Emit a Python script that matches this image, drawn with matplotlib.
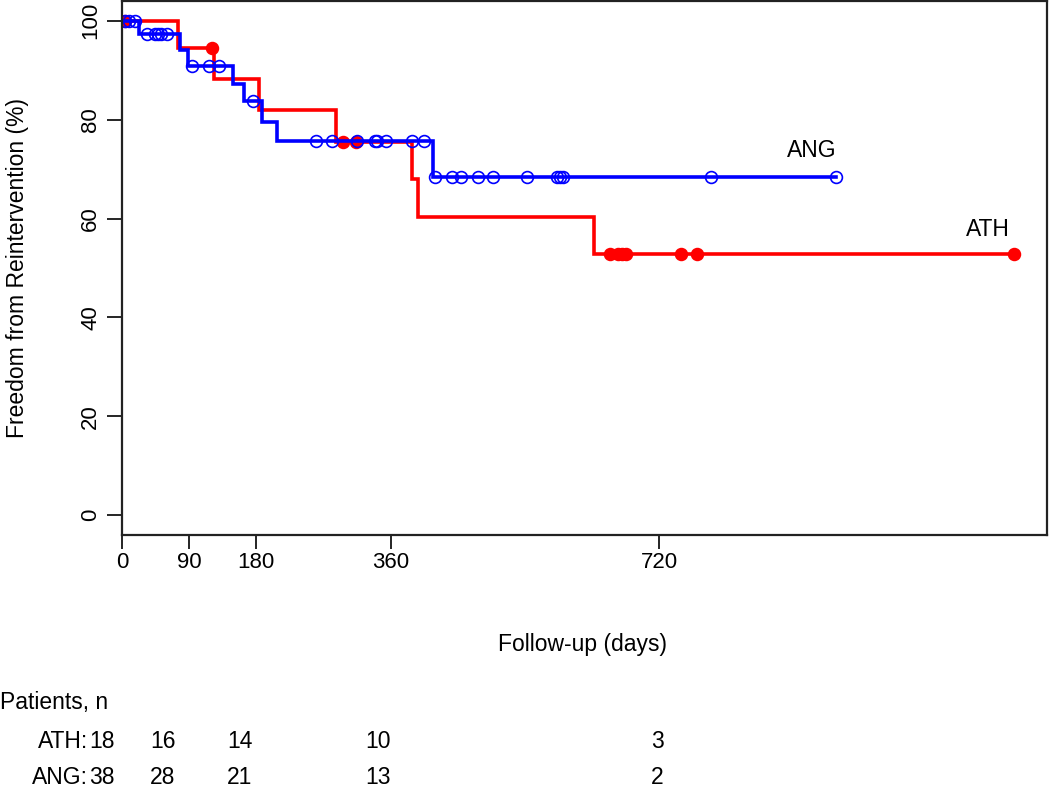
import numpy as np
import matplotlib
matplotlib.use("Agg")
import matplotlib.pyplot as plt

plt.rcParams["font.family"] = ["Liberation Sans", "DejaVu Sans"]

# Kaplan-Meier steps (days, % free from reintervention)
ath_times = [0, 75, 123, 184, 287, 389, 397, 633]
ath_surv = [100, 94.4, 88.2, 82.0, 75.5, 68.0, 60.4, 52.8]
ath_end = 1196
ath_censor = [4, 121, 296, 314, 654, 665, 670, 676, 750, 771, 1196]

ang_times = [0, 23, 78, 88, 149, 164, 188, 208, 417]
ang_surv = [100, 97.4, 94.0, 90.9, 87.3, 83.7, 79.6, 75.6, 68.5]
ang_end = 957
ang_censor = [4, 9, 17, 34, 44, 48, 52, 60, 94, 117, 130, 176,
              260, 282, 315, 339, 342, 354, 389, 405,
              420, 442, 455, 477, 497, 543, 583, 587, 591, 790, 957]

x_ticks = [0, 90, 180, 360, 720]
y_ticks = [0, 20, 40, 60, 80, 100]

risk_groups = ["ATH:", "ANG:"]
risk_ath = [18, 16, 14, 10, 3]
risk_ang = [38, 28, 21, 13, 2]


def step_value(times, surv, t):
    idx = np.searchsorted(times, t, side="right") - 1
    return np.asarray(surv)[idx]


W, H = 1050, 788
FS = 16.5
fig = plt.figure(figsize=(W / 100, H / 100), dpi=100)
ax = fig.add_axes([122 / W, 1 - 535 / H, (1047 - 122) / W, (535 - 1) / H])

for times, surv, end, cens, col, filled in [
    (ath_times, ath_surv, ath_end, ath_censor, "#ff0000", True),
    (ang_times, ang_surv, ang_end, ang_censor, "#0000ff", False),
]:
    xs = list(times) + [end]
    ys = list(surv) + [surv[-1]]
    ax.step(xs, ys, where="post", color=col, lw=2.6, solid_joinstyle="miter")
    cy = step_value(times, surv, cens)
    ax.plot(cens, cy, ls="none", marker="o", ms=8.5,
            mfc=col if filled else "none", mec=col, mew=1.2)

ax.text(924, 73.8, "ANG", ha="center", va="center", fontsize=FS)
ax.text(1161, 57.8, "ATH", ha="center", va="center", fontsize=FS)

ax.set_xlim(0, 1240)
ax.set_ylim(-4, 104)
ax.set_xticks(x_ticks)
ax.set_yticks(y_ticks)
ax.tick_params(axis="x", length=10, width=1.2, pad=2, labelsize=16)
ax.tick_params(axis="y", length=11, width=1.2, pad=4, labelsize=16,
               labelrotation=90)
for lab in ax.get_yticklabels():
    lab.set_va("center")
for sp in ax.spines.values():
    sp.set_linewidth(1.6)
    sp.set_color("#222222")

fig.text(18 / W, 1 - 268 / H, "Freedom from Reintervention (%)",
         rotation=90, ha="center", va="center", fontsize=FS)
fig.text(583 / W, 1 - 645 / H, "Follow-up (days)",
         ha="center", va="center", fontsize=FS)

# number-at-risk table under the plot
fig.text(0, 1 - 703 / H, "Patients, n", ha="left", va="center", fontsize=FS)
risk_cols_px = [102, 163, 240, 378, 657]
for row_y, name, counts in [(741, risk_groups[0], risk_ath),
                            (778, risk_groups[1], risk_ang)]:
    fig.text(88 / W, 1 - row_y / H, name, ha="right", va="center", fontsize=FS)
    for px, n in zip(risk_cols_px, counts):
        fig.text(px / W, 1 - row_y / H, str(n), ha="center", va="center",
                 fontsize=FS)

fig.savefig("out.png", dpi=100)
